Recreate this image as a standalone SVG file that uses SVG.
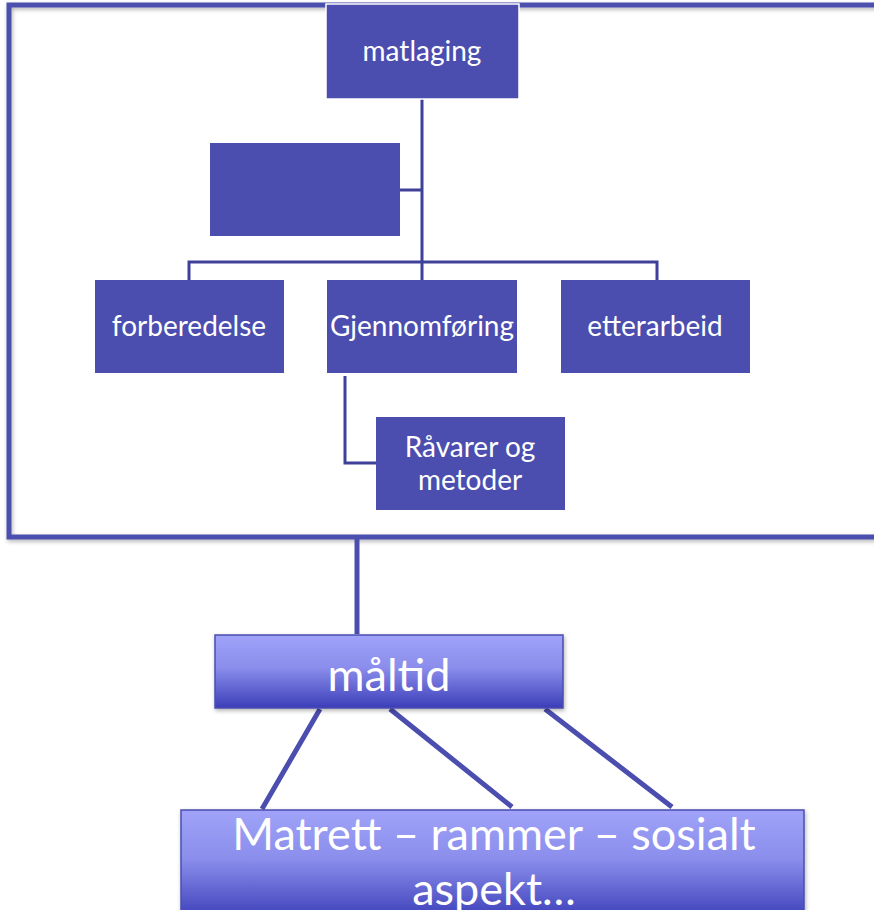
<svg xmlns="http://www.w3.org/2000/svg" width="874" height="910" viewBox="0 0 874 910">
<defs>
<linearGradient id="g" x1="0" y1="0" x2="0" y2="1">
<stop offset="0" stop-color="#A0A3F8"/>
<stop offset="0.45" stop-color="#8A8DEB"/>
<stop offset="1" stop-color="#3B3EB8"/>
</linearGradient>
<filter id="sh" x="-5%" y="-5%" width="110%" height="115%">
<feDropShadow dx="1" dy="2" stdDeviation="2" flood-color="#000" flood-opacity="0.3"/>
</filter>
<style>
.box{fill:#4B4EAE}
.t{font-family:Lato,"Open Sans","Liberation Sans",sans-serif;fill:#fff;text-anchor:middle}
.s{font-size:28px}
.b{font-size:45px}
.c{fill:none;stroke:#3F4199;stroke-width:3}
.c2{fill:none;stroke:#4B4EAE;stroke-width:5}
.grad{fill:url(#g);stroke:#4B4EAE;stroke-width:1.5}
</style>
</defs>
<rect x="9" y="5" width="880" height="532" fill="none" stroke="#4B4FAE" stroke-width="5" filter="url(#sh)"/>
<g id="connectors">
<path class="c" d="M422 98V262M189 280V262H657V280M422 262V280M400 190H422"/>
<path class="c" d="M345 376V463H376"/>
<path class="c2" d="M357 539V634"/>
<path class="c2" d="M320 709L262 809M390 709L512 807M545 709L672 807"/>
</g>
<g id="matlaging">
<rect class="box" x="326" y="4" width="193" height="95" stroke="#fff" stroke-width="1.5"/>
<text class="t s" x="422" y="61">matlaging</text>
</g>
<g id="assistant">
<rect class="box" x="210" y="143" width="190" height="93"/>
</g>
<g id="forberedelse">
<rect class="box" x="95" y="280" width="189" height="93"/>
<text class="t s" x="189" y="336">forberedelse</text>
</g>
<g id="gjennomforing">
<rect class="box" x="327" y="280" width="190" height="93"/>
<text class="t s" x="422" y="336">Gjennomføring</text>
</g>
<g id="etterarbeid">
<rect class="box" x="561" y="280" width="189" height="93"/>
<text class="t s" x="655" y="336">etterarbeid</text>
</g>
<g id="ravarer">
<rect class="box" x="376" y="417" width="189" height="93"/>
<text class="t s" x="470" y="457">Råvarer og</text>
<text class="t s" x="470" y="490">metoder</text>
</g>
<g id="maltid">
<rect class="grad" x="215" y="635" width="348" height="73" filter="url(#sh)"/>
<text class="t b" x="389" y="691">måltid</text>
</g>
<g id="matrett">
<rect class="grad" x="181" y="810" width="623" height="110" filter="url(#sh)"/>
<text class="t b" x="494" y="850">Matrett – rammer – sosialt</text>
<text class="t b" x="494" y="905">aspekt…</text>
</g>
</svg>
